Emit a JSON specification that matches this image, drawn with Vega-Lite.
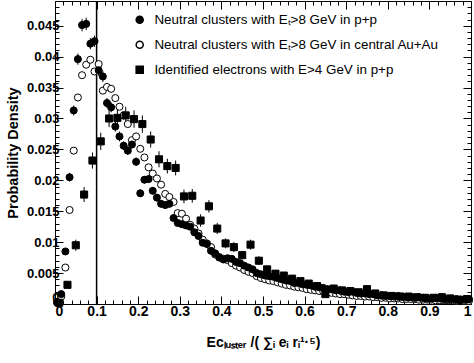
{
"$schema": "https://vega.github.io/schema/vega-lite/v6.json",
"width": 416, "height": 303,
"autosize": {"type": "none"},
"padding": {"left": 55, "top": 1, "right": 3, "bottom": 59},
"background": "white",
"config": {"font": "Liberation Sans", "view": {"stroke": null},
 "axis": {"domainColor": "black", "tickColor": "black", "labelColor": "black", "titleColor": "black", "grid": false, "labelFontWeight": "bold", "titleFontWeight": "bold", "domainWidth": 1, "tickWidth": 1},
 "legend": {"padding": 0, "labelLimit": 400}},
"data": {"values": [
{"s":"auau","x":0.005,"y":0.0002,"e":0.0001},{"s":"auau","x":0.015,"y":0.0012,"e":0.0002},{"s":"auau","x":0.025,"y":0.0059,"e":0.0003},{"s":"auau","x":0.035,"y":0.0152,"e":0.0004},{"s":"auau","x":0.045,"y":0.0248,"e":0.0005},{"s":"auau","x":0.055,"y":0.0334,"e":0.0005},{"s":"auau","x":0.065,"y":0.0370,"e":0.0005},{"s":"auau","x":0.075,"y":0.0387,"e":0.0005},{"s":"auau","x":0.085,"y":0.0395,"e":0.0005},{"s":"auau","x":0.095,"y":0.0376,"e":0.0005},
{"s":"auau","x":0.105,"y":0.0388,"e":0.0005},{"s":"auau","x":0.115,"y":0.0345,"e":0.0005},{"s":"auau","x":0.125,"y":0.0351,"e":0.0005},{"s":"auau","x":0.135,"y":0.0348,"e":0.0005},{"s":"auau","x":0.145,"y":0.0333,"e":0.0005},{"s":"auau","x":0.155,"y":0.0319,"e":0.0005},{"s":"auau","x":0.165,"y":0.0305,"e":0.0005},{"s":"auau","x":0.175,"y":0.0291,"e":0.0005},{"s":"auau","x":0.185,"y":0.0265,"e":0.0004},{"s":"auau","x":0.195,"y":0.0271,"e":0.0004},
{"s":"auau","x":0.205,"y":0.0251,"e":0.0004},{"s":"auau","x":0.215,"y":0.0237,"e":0.0004},{"s":"auau","x":0.225,"y":0.0221,"e":0.0004},{"s":"auau","x":0.235,"y":0.0211,"e":0.0004},{"s":"auau","x":0.245,"y":0.0203,"e":0.0004},{"s":"auau","x":0.255,"y":0.0193,"e":0.0004},{"s":"auau","x":0.265,"y":0.0178,"e":0.0004},{"s":"auau","x":0.275,"y":0.0173,"e":0.0004},{"s":"auau","x":0.285,"y":0.0165,"e":0.0004},{"s":"auau","x":0.295,"y":0.0147,"e":0.0003},
{"s":"auau","x":0.305,"y":0.0146,"e":0.0003},{"s":"auau","x":0.315,"y":0.0138,"e":0.0003},{"s":"auau","x":0.325,"y":0.0128,"e":0.0003},{"s":"auau","x":0.335,"y":0.0122,"e":0.0003},{"s":"auau","x":0.345,"y":0.0114,"e":0.0003},{"s":"auau","x":0.355,"y":0.0104,"e":0.0003},{"s":"auau","x":0.365,"y":0.0098,"e":0.0003},{"s":"auau","x":0.375,"y":0.0092,"e":0.0003},{"s":"auau","x":0.385,"y":0.0080,"e":0.0003},{"s":"auau","x":0.395,"y":0.0076,"e":0.0003},
{"s":"auau","x":0.405,"y":0.0073,"e":0.0003},{"s":"auau","x":0.415,"y":0.0071,"e":0.0003},{"s":"auau","x":0.425,"y":0.0066,"e":0.0003},{"s":"auau","x":0.435,"y":0.0062,"e":0.0003},{"s":"auau","x":0.445,"y":0.0059,"e":0.0003},{"s":"auau","x":0.455,"y":0.0055,"e":0.0003},{"s":"auau","x":0.465,"y":0.0052,"e":0.0003},{"s":"auau","x":0.475,"y":0.0050,"e":0.0003},{"s":"auau","x":0.485,"y":0.0045,"e":0.0003},{"s":"auau","x":0.495,"y":0.0042,"e":0.0003},
{"s":"auau","x":0.505,"y":0.0040,"e":0.0002},{"s":"auau","x":0.515,"y":0.0038,"e":0.0002},{"s":"auau","x":0.525,"y":0.0037,"e":0.0002},{"s":"auau","x":0.535,"y":0.0035,"e":0.0002},{"s":"auau","x":0.545,"y":0.0033,"e":0.0002},{"s":"auau","x":0.555,"y":0.0031,"e":0.0002},{"s":"auau","x":0.565,"y":0.0030,"e":0.0002},{"s":"auau","x":0.575,"y":0.0028,"e":0.0002},{"s":"auau","x":0.585,"y":0.0027,"e":0.0002},{"s":"auau","x":0.595,"y":0.0026,"e":0.0002},
{"s":"auau","x":0.605,"y":0.0024,"e":0.0002},{"s":"auau","x":0.615,"y":0.0023,"e":0.0002},{"s":"auau","x":0.625,"y":0.0022,"e":0.0002},{"s":"auau","x":0.635,"y":0.0021,"e":0.0002},{"s":"auau","x":0.645,"y":0.0020,"e":0.0002},{"s":"auau","x":0.655,"y":0.0019,"e":0.0002},{"s":"auau","x":0.665,"y":0.0018,"e":0.0002},{"s":"auau","x":0.675,"y":0.0017,"e":0.0002},{"s":"auau","x":0.685,"y":0.0016,"e":0.0002},{"s":"auau","x":0.695,"y":0.0016,"e":0.0002},
{"s":"auau","x":0.705,"y":0.0015,"e":0.0002},{"s":"auau","x":0.715,"y":0.0014,"e":0.0002},{"s":"auau","x":0.725,"y":0.0013,"e":0.0002},{"s":"auau","x":0.735,"y":0.0013,"e":0.0002},{"s":"auau","x":0.745,"y":0.0012,"e":0.0002},{"s":"auau","x":0.755,"y":0.0012,"e":0.0002},{"s":"auau","x":0.765,"y":0.0011,"e":0.0002},{"s":"auau","x":0.775,"y":0.0011,"e":0.0002},{"s":"auau","x":0.785,"y":0.0010,"e":0.0002},{"s":"auau","x":0.795,"y":0.0010,"e":0.0002},
{"s":"auau","x":0.805,"y":0.0009,"e":0.0002},{"s":"auau","x":0.815,"y":0.0009,"e":0.0002},{"s":"auau","x":0.825,"y":0.0009,"e":0.0002},{"s":"auau","x":0.835,"y":0.0008,"e":0.0002},{"s":"auau","x":0.845,"y":0.0008,"e":0.0002},{"s":"auau","x":0.855,"y":0.0008,"e":0.0002},{"s":"auau","x":0.865,"y":0.0008,"e":0.0002},{"s":"auau","x":0.875,"y":0.0007,"e":0.0002},{"s":"auau","x":0.885,"y":0.0007,"e":0.0002},{"s":"auau","x":0.895,"y":0.0007,"e":0.0002},
{"s":"auau","x":0.905,"y":0.0007,"e":0.0002},{"s":"auau","x":0.915,"y":0.0006,"e":0.0002},{"s":"auau","x":0.925,"y":0.0006,"e":0.0002},{"s":"auau","x":0.935,"y":0.0006,"e":0.0002},{"s":"auau","x":0.945,"y":0.0006,"e":0.0002},{"s":"auau","x":0.955,"y":0.0006,"e":0.0002},{"s":"auau","x":0.965,"y":0.0005,"e":0.0002},{"s":"auau","x":0.975,"y":0.0006,"e":0.0002},{"s":"auau","x":0.985,"y":0.0005,"e":0.0002},{"s":"auau","x":0.995,"y":0.0005,"e":0.0002},
{"s":"pp","x":0.005,"y":0.0003,"e":0.0002},{"s":"pp","x":0.015,"y":0.0016,"e":0.0003},{"s":"pp","x":0.025,"y":0.0085,"e":0.0005},{"s":"pp","x":0.035,"y":0.0205,"e":0.0007},{"s":"pp","x":0.045,"y":0.0313,"e":0.0008},{"s":"pp","x":0.055,"y":0.0396,"e":0.0009},{"s":"pp","x":0.065,"y":0.0451,"e":0.0010},{"s":"pp","x":0.075,"y":0.0453,"e":0.0010},{"s":"pp","x":0.085,"y":0.0421,"e":0.0009},{"s":"pp","x":0.095,"y":0.0425,"e":0.0009},
{"s":"pp","x":0.105,"y":0.0378,"e":0.0009},{"s":"pp","x":0.115,"y":0.0368,"e":0.0009},{"s":"pp","x":0.125,"y":0.0325,"e":0.0008},{"s":"pp","x":0.135,"y":0.0318,"e":0.0008},{"s":"pp","x":0.145,"y":0.0287,"e":0.0008},{"s":"pp","x":0.155,"y":0.0271,"e":0.0008},{"s":"pp","x":0.165,"y":0.0256,"e":0.0007},{"s":"pp","x":0.175,"y":0.0248,"e":0.0007},{"s":"pp","x":0.185,"y":0.0258,"e":0.0007},{"s":"pp","x":0.195,"y":0.0230,"e":0.0007},
{"s":"pp","x":0.205,"y":0.0179,"e":0.0006},{"s":"pp","x":0.215,"y":0.0201,"e":0.0006},{"s":"pp","x":0.225,"y":0.0202,"e":0.0006},{"s":"pp","x":0.235,"y":0.0183,"e":0.0006},{"s":"pp","x":0.245,"y":0.0172,"e":0.0006},{"s":"pp","x":0.255,"y":0.0162,"e":0.0006},{"s":"pp","x":0.265,"y":0.0160,"e":0.0006},{"s":"pp","x":0.275,"y":0.0162,"e":0.0006},{"s":"pp","x":0.285,"y":0.0139,"e":0.0005},{"s":"pp","x":0.295,"y":0.0131,"e":0.0005},
{"s":"pp","x":0.305,"y":0.0129,"e":0.0005},{"s":"pp","x":0.315,"y":0.0127,"e":0.0005},{"s":"pp","x":0.325,"y":0.0125,"e":0.0005},{"s":"pp","x":0.335,"y":0.0116,"e":0.0005},{"s":"pp","x":0.345,"y":0.0110,"e":0.0005},{"s":"pp","x":0.355,"y":0.0099,"e":0.0004},{"s":"pp","x":0.365,"y":0.0097,"e":0.0004},{"s":"pp","x":0.375,"y":0.0086,"e":0.0004},{"s":"pp","x":0.385,"y":0.0082,"e":0.0004},{"s":"pp","x":0.395,"y":0.0075,"e":0.0004},
{"s":"pp","x":0.405,"y":0.0072,"e":0.0004},{"s":"pp","x":0.415,"y":0.0074,"e":0.0004},{"s":"pp","x":0.425,"y":0.0073,"e":0.0004},{"s":"pp","x":0.435,"y":0.0068,"e":0.0004},{"s":"pp","x":0.445,"y":0.0066,"e":0.0004},{"s":"pp","x":0.455,"y":0.0062,"e":0.0004},{"s":"pp","x":0.465,"y":0.0059,"e":0.0004},{"s":"pp","x":0.475,"y":0.0056,"e":0.0004},{"s":"pp","x":0.485,"y":0.0050,"e":0.0004},{"s":"pp","x":0.495,"y":0.0048,"e":0.0004},
{"s":"pp","x":0.505,"y":0.0046,"e":0.0003},{"s":"pp","x":0.515,"y":0.0045,"e":0.0003},{"s":"pp","x":0.525,"y":0.0044,"e":0.0003},{"s":"pp","x":0.535,"y":0.0042,"e":0.0003},{"s":"pp","x":0.545,"y":0.0040,"e":0.0003},{"s":"pp","x":0.555,"y":0.0038,"e":0.0003},{"s":"pp","x":0.565,"y":0.0037,"e":0.0003},{"s":"pp","x":0.575,"y":0.0034,"e":0.0003},{"s":"pp","x":0.585,"y":0.0034,"e":0.0003},{"s":"pp","x":0.595,"y":0.0032,"e":0.0003},
{"s":"pp","x":0.605,"y":0.0031,"e":0.0003},{"s":"pp","x":0.615,"y":0.0030,"e":0.0003},{"s":"pp","x":0.625,"y":0.0028,"e":0.0003},{"s":"pp","x":0.635,"y":0.0027,"e":0.0003},{"s":"pp","x":0.645,"y":0.0026,"e":0.0003},{"s":"pp","x":0.655,"y":0.0024,"e":0.0003},{"s":"pp","x":0.665,"y":0.0024,"e":0.0003},{"s":"pp","x":0.675,"y":0.0022,"e":0.0003},{"s":"pp","x":0.685,"y":0.0022,"e":0.0003},{"s":"pp","x":0.695,"y":0.0020,"e":0.0003},
{"s":"pp","x":0.705,"y":0.0019,"e":0.0003},{"s":"pp","x":0.715,"y":0.0020,"e":0.0003},{"s":"pp","x":0.725,"y":0.0018,"e":0.0003},{"s":"pp","x":0.735,"y":0.0017,"e":0.0003},{"s":"pp","x":0.745,"y":0.0017,"e":0.0003},{"s":"pp","x":0.755,"y":0.0016,"e":0.0003},{"s":"pp","x":0.765,"y":0.0016,"e":0.0003},{"s":"pp","x":0.775,"y":0.0014,"e":0.0003},{"s":"pp","x":0.785,"y":0.0014,"e":0.0003},{"s":"pp","x":0.795,"y":0.0013,"e":0.0003},
{"s":"pp","x":0.805,"y":0.0013,"e":0.0003},{"s":"pp","x":0.815,"y":0.0012,"e":0.0003},{"s":"pp","x":0.825,"y":0.0013,"e":0.0003},{"s":"pp","x":0.835,"y":0.0012,"e":0.0003},{"s":"pp","x":0.845,"y":0.0011,"e":0.0003},{"s":"pp","x":0.855,"y":0.0011,"e":0.0003},{"s":"pp","x":0.865,"y":0.0010,"e":0.0003},{"s":"pp","x":0.875,"y":0.0011,"e":0.0003},{"s":"pp","x":0.885,"y":0.0010,"e":0.0003},{"s":"pp","x":0.895,"y":0.0009,"e":0.0003},
{"s":"pp","x":0.905,"y":0.0009,"e":0.0003},{"s":"pp","x":0.915,"y":0.0010,"e":0.0003},{"s":"pp","x":0.925,"y":0.0009,"e":0.0003},{"s":"pp","x":0.935,"y":0.0008,"e":0.0003},{"s":"pp","x":0.945,"y":0.0008,"e":0.0003},{"s":"pp","x":0.955,"y":0.0008,"e":0.0003},{"s":"pp","x":0.965,"y":0.0008,"e":0.0003},{"s":"pp","x":0.975,"y":0.0007,"e":0.0003},{"s":"pp","x":0.985,"y":0.0007,"e":0.0003},{"s":"pp","x":0.995,"y":0.0008,"e":0.0003},
{"s":"el","x":0.01,"y":0.0002,"e":0.0002},{"s":"el","x":0.03,"y":0.0031,"e":0.0005},{"s":"el","x":0.05,"y":0.0095,"e":0.0009},{"s":"el","x":0.07,"y":0.0177,"e":0.0012},{"s":"el","x":0.09,"y":0.0232,"e":0.0013},{"s":"el","x":0.11,"y":0.0263,"e":0.0014},{"s":"el","x":0.13,"y":0.0300,"e":0.0014},{"s":"el","x":0.15,"y":0.0301,"e":0.0014},{"s":"el","x":0.17,"y":0.0305,"e":0.0014},{"s":"el","x":0.19,"y":0.0299,"e":0.0014},
{"s":"el","x":0.21,"y":0.0291,"e":0.0014},{"s":"el","x":0.23,"y":0.0266,"e":0.0013},{"s":"el","x":0.25,"y":0.0234,"e":0.0013},{"s":"el","x":0.27,"y":0.0223,"e":0.0012},{"s":"el","x":0.29,"y":0.0220,"e":0.0012},{"s":"el","x":0.31,"y":0.0174,"e":0.0011},{"s":"el","x":0.33,"y":0.0175,"e":0.0011},{"s":"el","x":0.35,"y":0.0135,"e":0.0010},{"s":"el","x":0.37,"y":0.0158,"e":0.0010},{"s":"el","x":0.39,"y":0.0122,"e":0.0009},
{"s":"el","x":0.41,"y":0.0098,"e":0.0008},{"s":"el","x":0.43,"y":0.0092,"e":0.0008},{"s":"el","x":0.45,"y":0.0079,"e":0.0007},{"s":"el","x":0.47,"y":0.0096,"e":0.0008},{"s":"el","x":0.49,"y":0.0070,"e":0.0007},{"s":"el","x":0.51,"y":0.0056,"e":0.0006},{"s":"el","x":0.53,"y":0.0049,"e":0.0006},{"s":"el","x":0.55,"y":0.0046,"e":0.0005},{"s":"el","x":0.57,"y":0.0041,"e":0.0005},{"s":"el","x":0.59,"y":0.0037,"e":0.0005},
{"s":"el","x":0.61,"y":0.0033,"e":0.0005},{"s":"el","x":0.63,"y":0.0029,"e":0.0004},{"s":"el","x":0.65,"y":0.0016,"e":0.0003},{"s":"el","x":0.67,"y":0.0025,"e":0.0004},{"s":"el","x":0.69,"y":0.0022,"e":0.0004},{"s":"el","x":0.71,"y":0.0021,"e":0.0004},{"s":"el","x":0.73,"y":0.0019,"e":0.0004},{"s":"el","x":0.75,"y":0.0024,"e":0.0004},{"s":"el","x":0.77,"y":0.0017,"e":0.0003},{"s":"el","x":0.79,"y":0.0014,"e":0.0003},
{"s":"el","x":0.81,"y":0.0013,"e":0.0003},{"s":"el","x":0.83,"y":0.0012,"e":0.0003},{"s":"el","x":0.85,"y":0.0012,"e":0.0003},{"s":"el","x":0.87,"y":0.0011,"e":0.0003},{"s":"el","x":0.89,"y":0.0010,"e":0.0003},{"s":"el","x":0.91,"y":0.0010,"e":0.0003},{"s":"el","x":0.93,"y":0.0011,"e":0.0003},{"s":"el","x":0.95,"y":0.0009,"e":0.0003},{"s":"el","x":0.97,"y":0.0007,"e":0.0003},{"s":"el","x":0.99,"y":0.0008,"e":0.0003}
]},
"resolve": {"axis": {"x": "independent", "y": "independent"}},
"layer": [
{"mark": {"type": "errorbar", "color": "black", "thickness": 1},
 "encoding": {
  "x": {"field": "x", "type": "quantitative", "scale": {"domain": [0, 1], "nice": false, "zero": false},
   "axis": {"orient": "top", "title": null, "labels": false, "values": [0,0.02,0.04,0.06,0.08,0.1,0.12,0.14,0.16,0.18,0.2,0.22,0.24,0.26,0.28,0.3,0.32,0.34,0.36,0.38,0.4,0.42,0.44,0.46,0.48,0.5,0.52,0.54,0.56,0.58,0.6,0.62,0.64,0.66,0.68,0.7,0.72,0.74,0.76,0.78,0.8,0.82,0.84,0.86,0.88,0.9,0.92,0.94,0.96,0.98,1],
    "tickSize": {"condition": {"test": "abs(datum.value*10-round(datum.value*10))<1e-6", "value": -8}, "value": -4}}},
  "y": {"field": "y", "type": "quantitative", "scale": {"domain": [0, 0.049], "nice": false, "zero": false},
   "axis": {"orient": "right", "title": null, "labels": false, "values": [0,0.001,0.002,0.003,0.004,0.005,0.006,0.007,0.008,0.009,0.01,0.011,0.012,0.013,0.014,0.015,0.016,0.017,0.018,0.019,0.02,0.021,0.022,0.023,0.024,0.025,0.026,0.027,0.028,0.029,0.03,0.031,0.032,0.033,0.034,0.035,0.036,0.037,0.038,0.039,0.04,0.041,0.042,0.043,0.044,0.045,0.046,0.047,0.048,0.049],
    "tickSize": {"condition": {"test": "abs(datum.value*200-round(datum.value*200))<1e-6", "value": -8}, "value": -4}}},
  "yError": {"field": "e"}
 }},
{"data": {"values": [{}]},
 "mark": {"type": "rule", "color": "black", "strokeWidth": 1.5},
 "encoding": {"x": {"datum": 0.1, "type": "quantitative", "axis": null}}},
{"mark": {"type": "point", "filled": true, "stroke": "black", "strokeWidth": 1, "opacity": 1, "size": 50},
 "encoding": {
  "x": {"field": "x", "type": "quantitative", "scale": {"domain": [0, 1], "nice": false, "zero": false},
   "axis": {"orient": "bottom", "title": "Eᴄₗᵤₛₜₑᵣ /( ∑ᵢ eᵢ rᵢ¹·⁵)", "titleFontSize": 14, "titlePadding": 17, "labelFontSize": 14, "labelPadding": 8,
    "values": [0,0.02,0.04,0.06,0.08,0.1,0.12,0.14,0.16,0.18,0.2,0.22,0.24,0.26,0.28,0.3,0.32,0.34,0.36,0.38,0.4,0.42,0.44,0.46,0.48,0.5,0.52,0.54,0.56,0.58,0.6,0.62,0.64,0.66,0.68,0.7,0.72,0.74,0.76,0.78,0.8,0.82,0.84,0.86,0.88,0.9,0.92,0.94,0.96,0.98,1],
    "labelExpr": "abs(datum.value*10-round(datum.value*10))<1e-6 ? ''+datum.value : ''",
    "tickSize": {"condition": {"test": "abs(datum.value*10-round(datum.value*10))<1e-6", "value": -8}, "value": -4}}},
  "y": {"field": "y", "type": "quantitative", "scale": {"domain": [0, 0.049], "nice": false, "zero": false},
   "axis": {"orient": "left", "title": "Probability Density", "titleFontSize": 14.5, "titlePadding": 6, "labelFontSize": 13, "labelPadding": 4,
    "labelBaseline": {"condition": {"test": "datum.value == 0", "value": "bottom"}, "value": "middle"},
    "values": [0,0.001,0.002,0.003,0.004,0.005,0.006,0.007,0.008,0.009,0.01,0.011,0.012,0.013,0.014,0.015,0.016,0.017,0.018,0.019,0.02,0.021,0.022,0.023,0.024,0.025,0.026,0.027,0.028,0.029,0.03,0.031,0.032,0.033,0.034,0.035,0.036,0.037,0.038,0.039,0.04,0.041,0.042,0.043,0.044,0.045,0.046,0.047,0.048,0.049],
    "labelExpr": "abs(datum.value*200-round(datum.value*200))<1e-6 ? ''+datum.value : ''",
    "tickSize": {"condition": {"test": "abs(datum.value*200-round(datum.value*200))<1e-6", "value": -8}, "value": -4}}},
  "shape": {"field": "s", "type": "nominal", "scale": {"domain": ["pp", "auau", "el"], "range": ["circle", "circle", "square"]},
   "legend": {"title": null, "orient": "none", "legendX": 78, "legendY": 12, "labelFontSize": 13.4, "labelFont": "Liberation Sans", "labelColor": "black", "rowPadding": 10, "labelOffset": 8, "symbolSize": 50, "labelLimit": 400,
    "encode": {"symbols": {"update": {"fill": {"signal": "datum.value == 'auau' ? 'white' : 'black'"}, "stroke": {"value": "black"}, "strokeWidth": {"value": 1}, "opacity": {"value": 1}}}},
    "labelExpr": "datum.label == 'pp' ? 'Neutral clusters with Eₜ>8 GeV in p+p' : datum.label == 'auau' ? 'Neutral clusters with Eₜ>8 GeV in central Au+Au' : 'Identified electrons with E>4 GeV in p+p'"}},
  "fill": {"field": "s", "type": "nominal", "scale": {"domain": ["pp", "auau", "el"], "range": ["black", "white", "black"]}, "legend": null}
 }}
]
}
